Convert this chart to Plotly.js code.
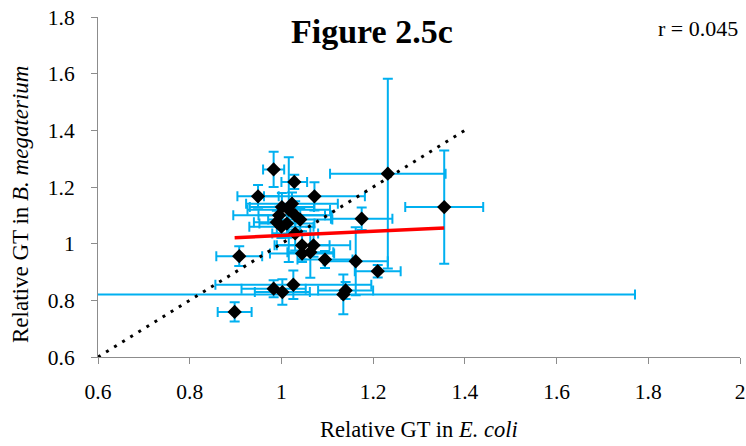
<!DOCTYPE html>
<html>
<head>
<meta charset="utf-8">
<script src="https://cdn.plot.ly/plotly-3.0.1.min.js"></script>
<style>html,body{margin:0;padding:0;background:#fff;}#chart{width:746px;height:446px;}</style>
</head>
<body>
<div id="chart"></div>
<script>
// Relative GT values (E. coli on x, B. megaterium on y) with error bar half-widths
const ecoli = [0.983, 1.028, 0.949, 1.072, 1.232, 1.355, 1.175, 0.908, 0.898, 1.162,
               1.210, 1.135, 1.140, 0.983, 1.002, 1.026, 1.001, 1.023, 1.030, 0.990,
               1.012, 1.016, 1.041, 1.045, 1.070, 1.045, 1.063, 1.095, 1.030, 0.995, 1.000];
const bmeg  = [1.262, 1.218, 1.167, 1.167, 1.247, 1.129, 1.088, 0.956, 0.759, 0.938,
               0.903, 0.821, 0.835, 0.841, 0.829, 0.855, 1.129, 1.141, 1.100, 1.076,
               1.071, 1.120, 1.085, 0.994, 0.994, 0.965, 0.970, 0.944, 1.036, 1.100, 1.060];
const ecoliErr = [0.023, 0.028, 0.045, 0.110, 0.126, 0.085, 0.067, 0.050, 0.037, 0.070,
                  0.050, 0.636, 0.060, 0.070, 0.060, 0.170, 0.070, 0.100, 0.080, 0.050,
                  0.060, 0.090, 0.070, 0.060, 0.080, 0.070, 0.050, 0.060, 0.050, 0.100, 0.070];
const bmegErr  = [0.062, 0.025, 0.040, 0.050, 0.335, 0.200, 0.040, 0.035, 0.034, 0.120,
                  0.022, 0.070, 0.030, 0.030, 0.045, 0.050, 0.050, 0.040, 0.050, 0.040,
                  0.050, 0.185, 0.040, 0.050, 0.040, 0.030, 0.090, 0.030, 0.060, 0.030, 0.040];
// Linear trendline endpoints (red) and identity line (dotted)
const trendX = [0.898, 1.355];
const trendY = [1.021, 1.055];
const identX = [0.6, 1.4];
const identY = [0.6, 1.4];
const xTicks = [0.6, 0.8, 1, 1.2, 1.4, 1.6, 1.8, 2];
const yTicks = [0.6, 0.8, 1, 1.2, 1.4, 1.6, 1.8];
const titleText = 'Figure 2.5c';
const rText = 'r = 0.045';
const xTitle = 'Relative GT in <i>E. coli</i>';
const yTitle = 'Relative GT in <i>B. megaterium</i>';

const serif = 'Liberation Serif';
const errColor = 'rgb(0,176,240)';

const traces = [
  {
    x: ecoli, y: bmeg, type: 'scatter', mode: 'markers',
    marker: {symbol: 'diamond', size: 11, color: '#000'},
    error_x: {type: 'data', array: ecoliErr, visible: true, color: errColor, thickness: 2, width: 5},
    error_y: {type: 'data', array: bmegErr, visible: true, color: errColor, thickness: 2, width: 5},
    hoverinfo: 'none'
  },
  {
    x: identX, y: identY, type: 'scatter', mode: 'lines',
    line: {color: '#000', width: 3, dash: '3px,6.5px'}, hoverinfo: 'none'
  },
  {
    x: trendX, y: trendY, type: 'scatter', mode: 'lines',
    line: {color: 'rgb(255,0,0)', width: 3.5}, hoverinfo: 'none'
  }
];

const H = 340; // plot height in px
const W = 642;
const layout = {
  width: 746, height: 446,
  margin: {l: 98, r: 6, t: 17, b: 89},
  paper_bgcolor: '#fff', plot_bgcolor: '#fff',
  showlegend: false,
  font: {family: serif, size: 21, color: '#000'},
  xaxis: {
    range: [0.6, 2], tickvals: xTicks, showgrid: false, zeroline: false,
    showline: true, linecolor: '#8c8c8c', linewidth: 1,
    ticks: 'outside', ticklen: 6, tickcolor: '#8c8c8c', ticklabelstandoff: 9,
    tickfont: {family: serif, size: 21.5, color: '#000'}, automargin: false
  },
  yaxis: {
    range: [0.6, 1.8], tickvals: yTicks, showgrid: false, zeroline: false,
    showline: true, linecolor: '#8c8c8c', linewidth: 1,
    ticks: 'outside', ticklen: 6, tickcolor: '#8c8c8c', ticklabelstandoff: 12,
    tickfont: {family: serif, size: 21.5, color: '#000'}, automargin: false
  },
  annotations: [
    {text: '<b>' + titleText + '</b>', xref: 'paper', yref: 'paper',
     x: (372 - 98) / W, y: (357 - 32) / H, xanchor: 'center', yanchor: 'middle',
     showarrow: false, font: {family: serif, size: 34, color: '#000'}},
    {text: rText, xref: 'paper', yref: 'paper',
     x: (698 - 98) / W, y: (357 - 28) / H, xanchor: 'center', yanchor: 'middle',
     showarrow: false, font: {family: serif, size: 22, color: '#000'}},
    {text: xTitle, xref: 'paper', yref: 'paper',
     x: 0.5, y: (357 - 430) / H, xanchor: 'center', yanchor: 'middle',
     showarrow: false, font: {family: serif, size: 22.5, color: '#000'}},
    {text: yTitle, xref: 'paper', yref: 'paper', textangle: -90,
     x: (20 - 98) / W, y: (357 - 205) / H, xanchor: 'center', yanchor: 'middle',
     showarrow: false, font: {family: serif, size: 23, color: '#000'}}
  ]
};

Plotly.newPlot('chart', traces, layout, {displayModeBar: false, staticPlot: true});
</script>
</body>
</html>
